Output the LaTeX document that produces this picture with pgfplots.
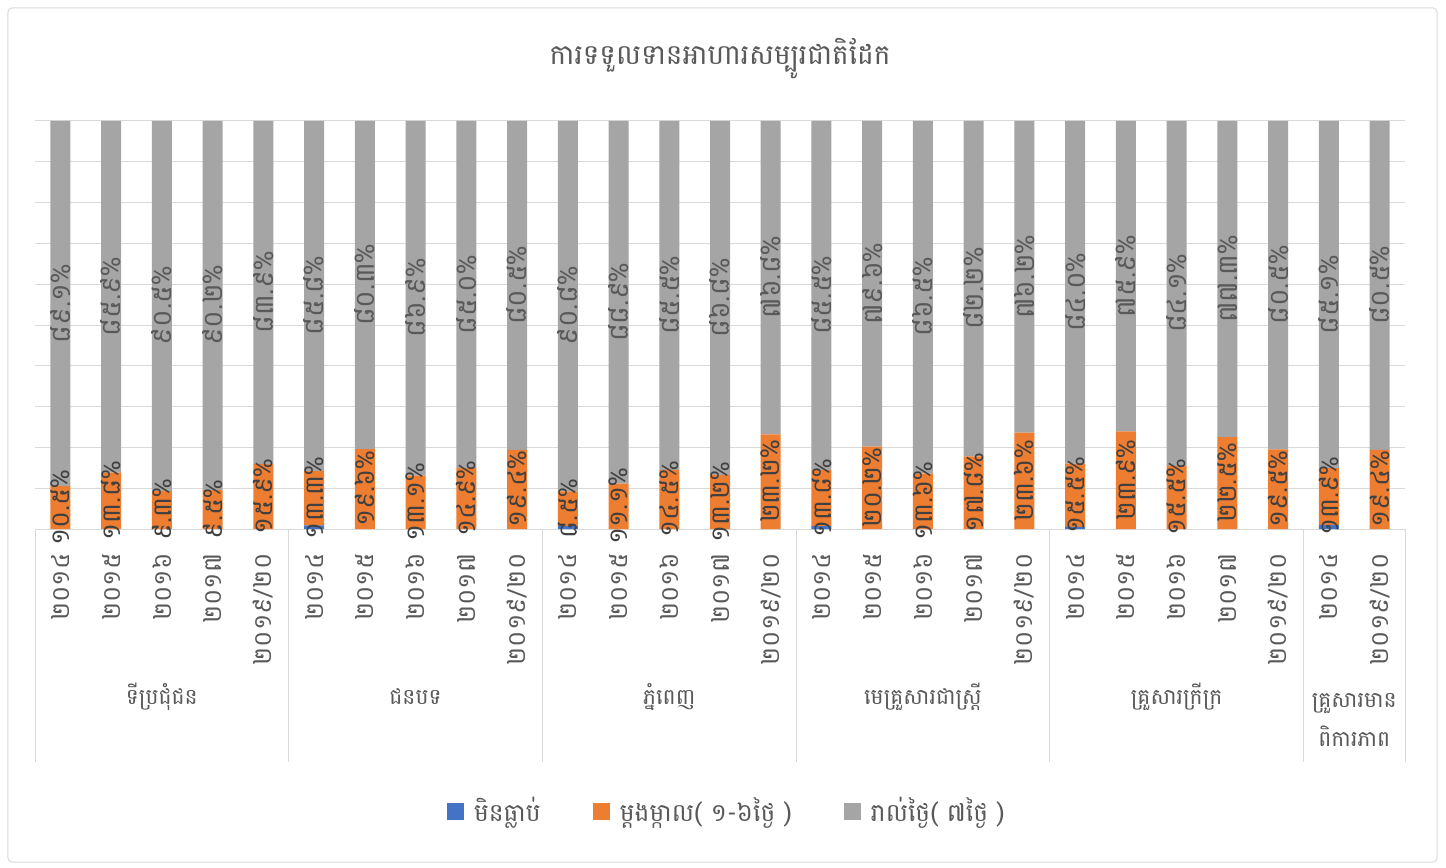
\documentclass[border=0pt]{standalone}
\usepackage{fontspec}
\setmainfont{Battambang}[Script=Khmer]
\usepackage{pgfplots}
\usepackage{pgfplotstable}
\pgfplotsset{compat=1.18}
\definecolor{cblue}{HTML}{4472C4}
\definecolor{corange}{HTML}{ED7D31}
\definecolor{cgray}{HTML}{A5A5A5}
\definecolor{gridc}{HTML}{D9D9D9}
\definecolor{txt}{HTML}{595959}
\definecolor{txtd}{HTML}{404040}

\pgfplotstableread{
x  b    o    g    ol    gl
0  0.0  10.5 89.5 ១០.៥ ៨៩.១
1  0.0  13.8 86.2 ១៣.៨ ៨៥.៩
2  0.0  9.3  90.7 ៩.៣  ៩០.៥
3  0.0  9.5  90.5 ៩.៥  ៩០.២
4  0.0  15.9 84.1 ១៥.៩ ៨៣.៩
5  0.9  13.3 85.8 ១៣.៣ ៨៥.៨
6  0.0  19.6 80.4 ១៩.៦ ៨០.៣
7  0.0  13.1 86.9 ១៣.១ ៨៦.៩
8  0.0  14.9 85.1 ១៤.៩ ៨៥.០
9  0.0  19.4 80.6 ១៩.៤ ៨០.៥
10 0.7  8.5  90.8 ៨.៥  ៩០.៨
11 0.0  11.1 88.9 ១១.១ ៨៨.៩
12 0.0  14.5 85.5 ១៤.៥ ៨៥.៥
13 0.0  13.2 86.8 ១៣.២ ៨៦.៨
14 0.0  23.2 76.8 ២៣.២ ៧៦.៨
15 0.7  13.8 85.5 ១៣.៨ ៨៥.៥
16 0.0  20.2 79.8 ២០.២ ៧៩.៦
17 0.0  13.6 86.4 ១៣.៦ ៨៦.៥
18 0.0  17.8 82.2 ១៧.៨ ៨២.២
19 0.0  23.6 76.4 ២៣.៦ ៧៦.២
20 0.5  15.5 84.0 ១៥.៥ ៨៤.០
21 0.0  23.9 76.1 ២៣.៩ ៧៥.៩
22 0.0  15.5 84.5 ១៥.៥ ៨៤.១
23 0.0  22.5 77.5 ២២.៥ ៧៧.៣
24 0.0  19.5 80.5 ១៩.៥ ៨០.៥
25 1.0  13.9 85.1 ១៣.៩ ៨៥.១
26 0.0  19.4 80.6 ១៩.៤ ៨០.៥
}\data

\begin{document}
\begin{tikzpicture}
\path (-35bp,-339bp) rectangle (1411bp,529bp);
\draw[gridc, line width=1bp, rounded corners=4bp] (-27bp,-333bp) rectangle (1402bp,521bp);
\begin{axis}[
  at={(0,0)}, anchor=south west,
  scale only axis, width=1370bp, height=408bp,
  xmin=-0.5, xmax=26.5, ymin=0, ymax=100,
  ybar stacked, bar width=20bp,
  axis line style={draw=none},
  ytick={0,10,...,100}, yticklabels={}, ymajorgrids,
  grid style={gridc, line width=1bp},
  major tick length=0pt,
  xtick={0,...,26},
  xticklabels={២០១៤,២០១៥,២០១៦,២០១៧,២០១៩/២០,២០១៤,២០១៥,២០១៦,២០១៧,២០១៩/២០,២០១៤,២០១៥,២០១៦,២០១៧,២០១៩/២០,២០១៤,២០១៥,២០១៦,២០១៧,២០១៩/២០,២០១៤,២០១៥,២០១៦,២០១៧,២០១៩/២០,២០១៤,២០១៩/២០},
  xticklabel style={yshift=-21bp, rotate=90, anchor=east, font=\fontsize{25}{25}\selectfont, text=txt},
  clip=false,
  legend style={at={(0.505,-0.689)}, anchor=center, draw=none, fill=none,
    legend columns=-1, font=\fontsize{25}{25}\selectfont, text=txt,
    /tikz/every odd column/.append style={column sep=8bp},
    /tikz/every even column/.append style={column sep=50bp}},
  legend image code/.code={\fill[#1] (0bp,-10bp) rectangle (17bp,7bp);},
]
\addplot[fill=cblue, draw=none] table[x=x, y=b]{\data};
\addplot[fill=corange, draw=none] table[x=x, y=o]{\data};
\addplot[fill=cgray, draw=none] table[x=x, y=g]{\data};
\legend{មិនធ្លាប់, ម្តងម្កាល( ១-៦ថ្ងៃ ), រាល់ថ្ងៃ( ៧ថ្ងៃ )}
\pgfplotsinvokeforeach{-0.5,4.5,9.5,14.5,19.5,24.5,26.5}{
  \draw[gridc, line width=1bp] (axis cs:#1,0) -- ++(0bp,-233bp);
}
\node[font=\fontsize{22}{26}\selectfont, text=txt] at ([yshift=-168bp]axis cs:2,0) {ទីប្រជុំជន};
\node[font=\fontsize{22}{26}\selectfont, text=txt] at ([yshift=-168bp]axis cs:7,0) {ជនបទ};
\node[font=\fontsize{22}{26}\selectfont, text=txt] at ([yshift=-168bp]axis cs:12,0) {ភ្នំពេញ};
\node[font=\fontsize{22}{26}\selectfont, text=txt] at ([yshift=-168bp]axis cs:17,0) {មេគ្រួសារជាស្ត្រី};
\node[font=\fontsize{22}{26}\selectfont, text=txt] at ([yshift=-168bp]axis cs:22,0) {គ្រួសារក្រីក្រ};
\node[font=\fontsize{22}{40}\selectfont, text=txt, align=center] at ([yshift=-191bp]axis cs:25.5,0) {គ្រួសារមាន\\ពិការភាព};
\end{axis}
\begin{axis}[
  at={(0,0)}, anchor=south west,
  scale only axis, width=1370bp, height=408bp,
  xmin=-0.5, xmax=26.5, ymin=0, ymax=100,
  hide axis, clip=false,
]
\addplot[draw=none, nodes near coords={\pgfplotspointmeta\%}, point meta=explicit symbolic,
  every node near coord/.style={rotate=90, anchor=center, font=\fontsize{26}{26}\selectfont, text=txtd}]
  table[x=x, y expr=\thisrow{b}+\thisrow{o}/2, meta=ol]{\data};
\addplot[draw=none, nodes near coords={\pgfplotspointmeta\%}, point meta=explicit symbolic,
  every node near coord/.style={rotate=90, anchor=center, font=\fontsize{27}{27}\selectfont, text=txt}]
  table[x=x, y expr=\thisrow{b}+\thisrow{o}+\thisrow{g}/2, meta=gl]{\data};
\end{axis}
\node[font=\fontsize{28}{28}\selectfont, text=txt] at (685bp,470bp) {ការទទួលទានអាហារសម្បូរជាតិដែក};
\end{tikzpicture}
\end{document}
